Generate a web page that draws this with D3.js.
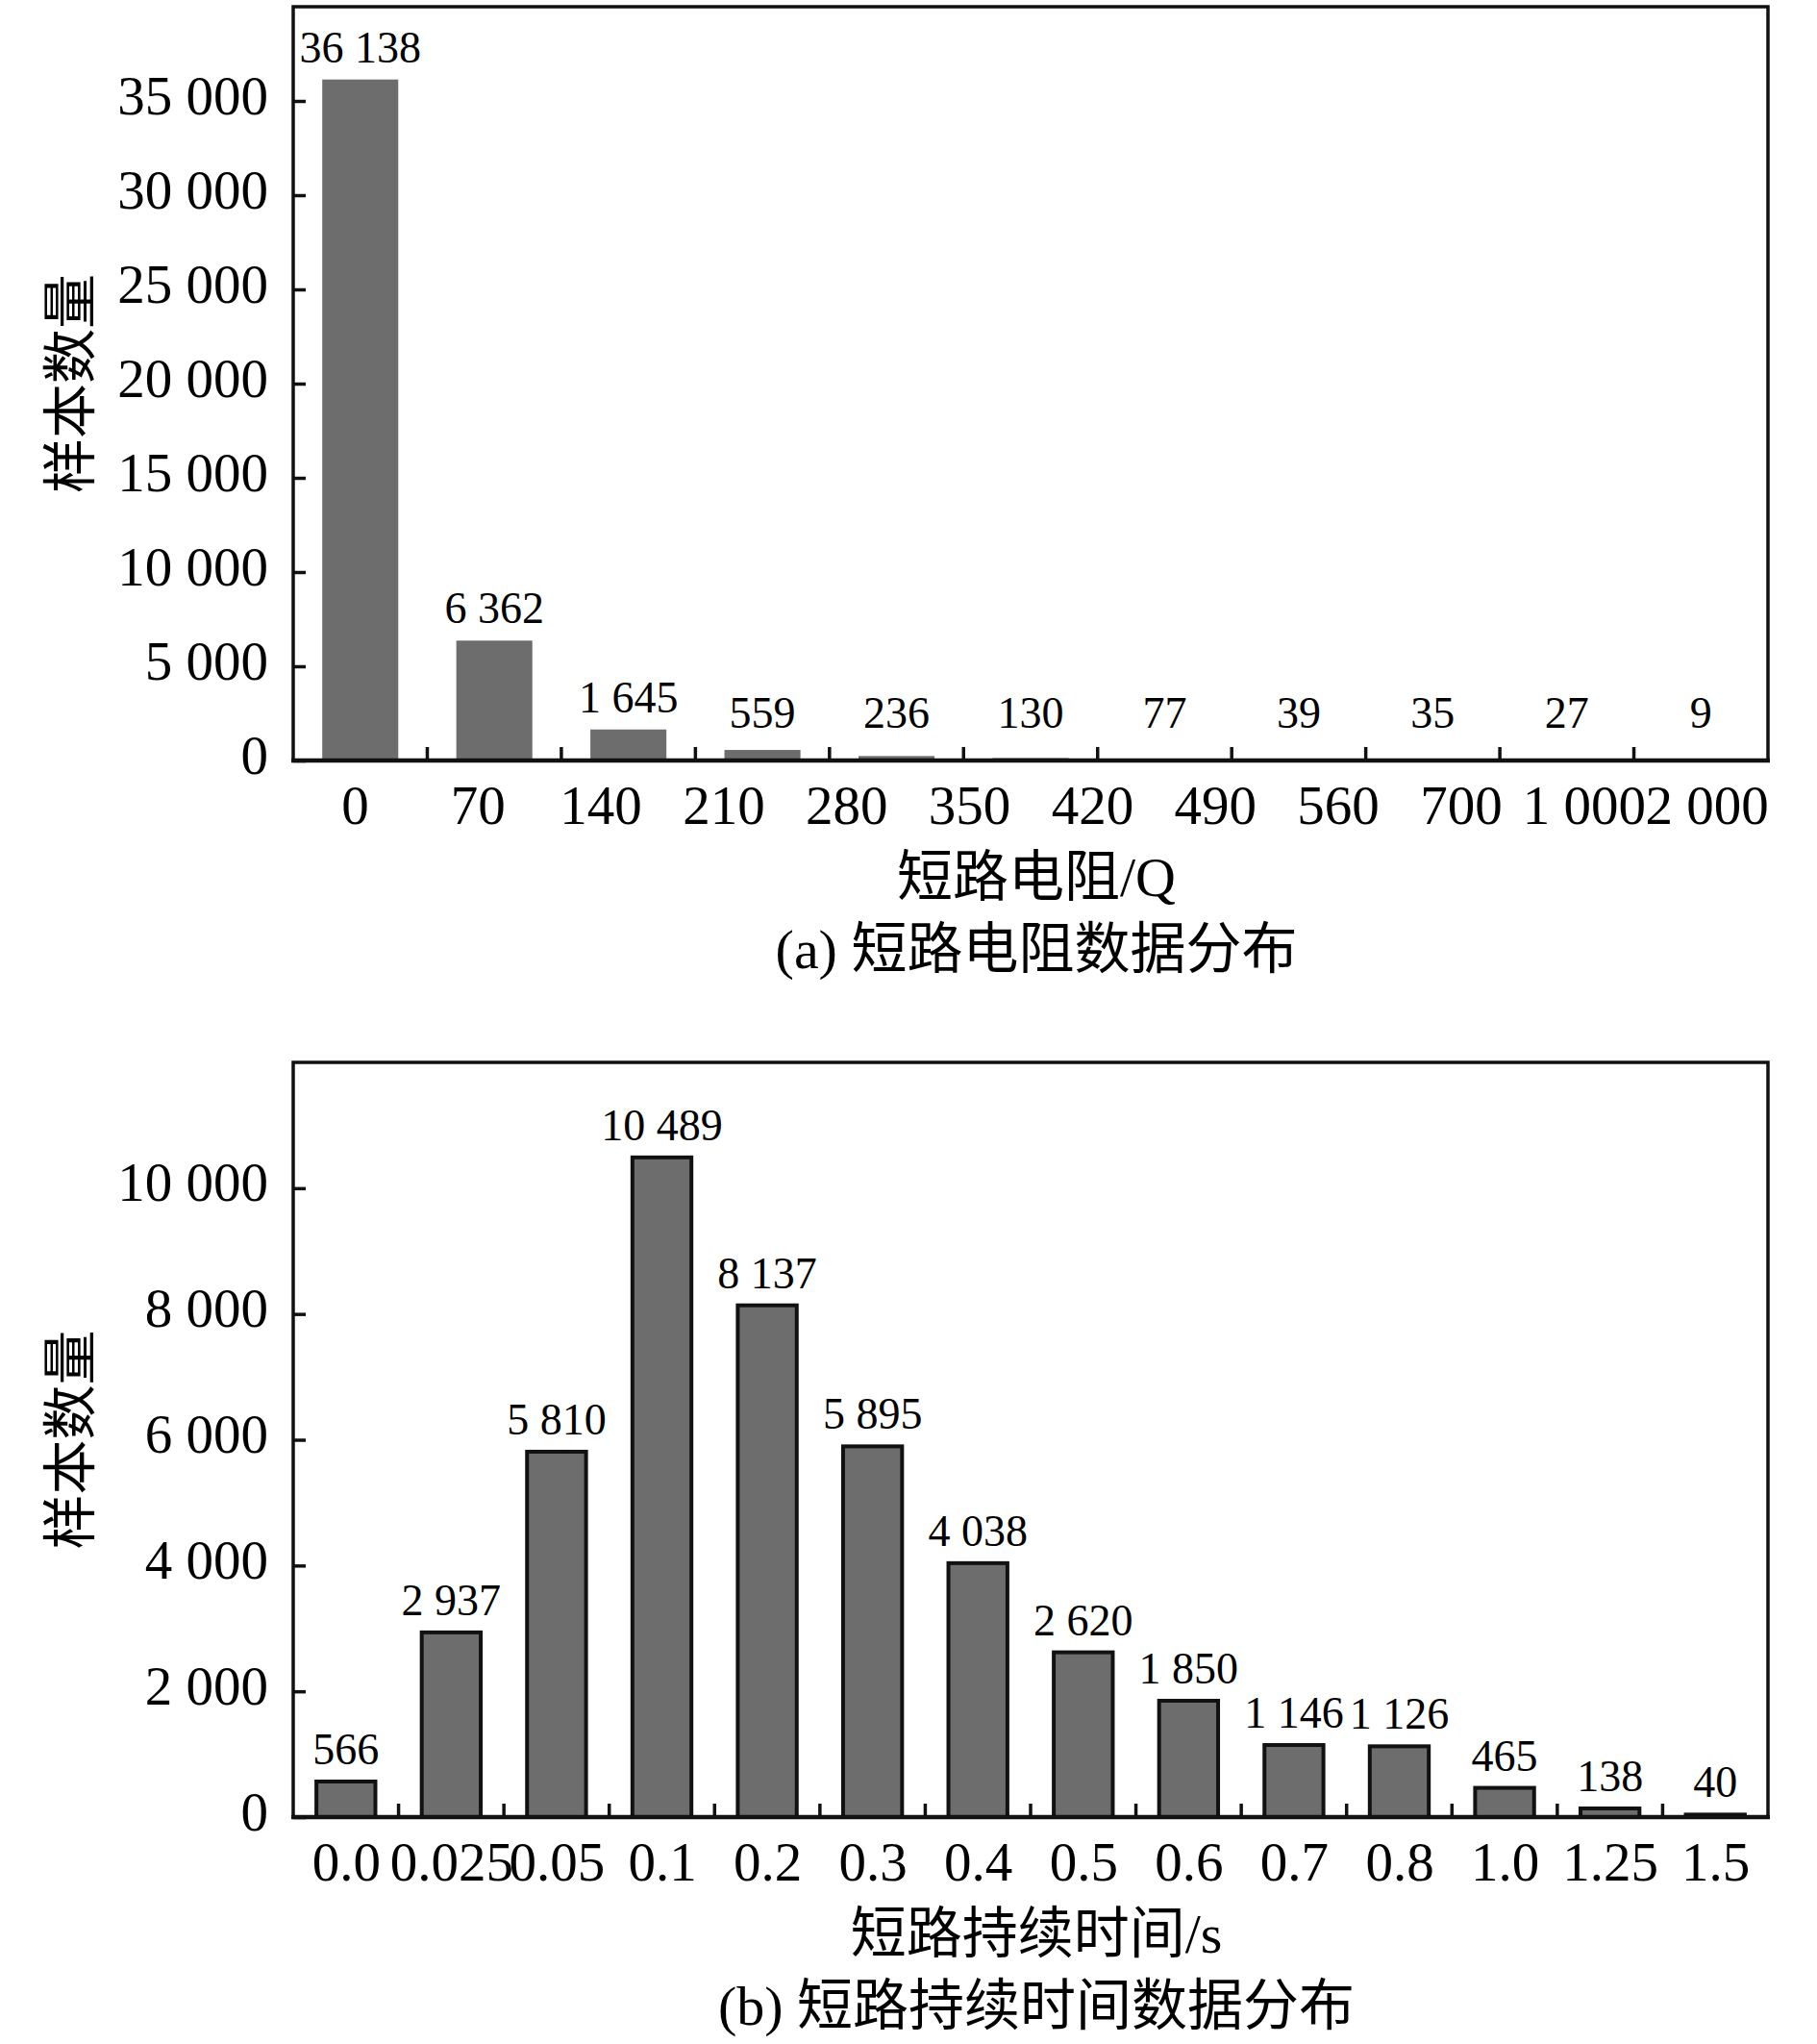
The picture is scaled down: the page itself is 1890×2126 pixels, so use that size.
<!DOCTYPE html>
<html>
<head>
<meta charset="utf-8">
<script src="https://cdn.jsdelivr.net/npm/d3@7"></script>
<style>
body { margin: 0; background: #fff; }
text { font-family: "Liberation Serif", "Noto Sans CJK SC", serif; fill: #000; }
</style>
</head>
<body>
<div id="chart"></div>
<script>
// (a) short-circuit resistance
var resLabels = ["0", "70", "140", "210", "280", "350", "420", "490", "560", "700", "1 000", "2 000"];
var resBins = ["0-70", "70-140", "140-210", "210-280", "280-350", "350-420", "420-490", "490-560", "560-700", "700-1000", "1000-2000"];
var resCounts = [36138, 6362, 1645, 559, 236, 130, 77, 39, 35, 27, 9];
var resTicks = [0, 5000, 10000, 15000, 20000, 25000, 30000, 35000];

// (b) short-circuit duration
var durLabels = ["0.0", "0.025", "0.05", "0.1", "0.2", "0.3", "0.4", "0.5", "0.6", "0.7", "0.8", "1.0", "1.25", "1.5"];
var durCounts = [566, 2937, 5810, 10489, 8137, 5895, 4038, 2620, 1850, 1146, 1126, 465, 138, 40];
var durTicks = [0, 2000, 4000, 6000, 8000, 10000];

var svgWidth = 1890;
var svgHeight = 2126;
var left = 305;
var right = 1839;

var fmt = d3.formatLocale({decimal: ".", thousands: " ", grouping: [3], currency: ["", ""]}).format(",");

var svg = d3.select("#chart")
            .append("svg")
            .attr("width", svgWidth)
            .attr("height", svgHeight);

function drawPanel(p) {
    var g = svg.append("g");

    var y = d3.scaleLinear()
              .domain([0, p.yMax])
              .range([p.bottom, p.top]);

    var xb = d3.scaleBand()
               .domain(p.bins)
               .range([left, right])
               .paddingInner(p.pad)
               .paddingOuter(p.pad / 2);

    var xl = d3.scalePoint()
               .domain(p.labels)
               .range([left, right])
               .padding(0.5);

    // bars
    g.selectAll("rect.bar")
     .data(p.counts)
     .enter()
     .append("rect")
     .attr("class", "bar")
     .attr("x", (d, i) => xb(p.bins[i]))
     .attr("width", xb.bandwidth())
     .attr("y", d => y(d))
     .attr("height", d => y(0) - y(d))
     .attr("fill", "#6d6d6d")
     .attr("stroke", p.stroke ? "#111" : "none")
     .attr("stroke-width", 4);

    // value labels
    g.selectAll("text.val")
     .data(p.counts)
     .enter()
     .append("text")
     .attr("class", "val")
     .attr("x", (d, i) => xb(p.bins[i]) + xb.bandwidth() / 2)
     .attr("y", d => Math.min(y(d) - 18, p.labelFloor))
     .attr("text-anchor", "middle")
     .attr("font-size", 46)
     .text(d => fmt(d));

    // y axis, ticks inward
    var yAxis = g.append("g")
                 .attr("transform", `translate(${left},0)`)
                 .call(d3.axisLeft(y).tickValues(p.ticks).tickFormat(fmt)
                         .tickSizeInner(-13).tickSizeOuter(0).tickPadding(26))
                 .attr("font-family", null)
                 .attr("font-size", 57);
    yAxis.select(".domain").remove();
    yAxis.selectAll("line").attr("stroke", "#111").attr("stroke-width", 3.5);
    yAxis.selectAll("text").attr("dy", "0.23em");

    // x labels (evenly spread over the axis)
    var xAxis = g.append("g")
                 .attr("transform", `translate(0,${p.bottom})`)
                 .call(d3.axisBottom(xl).tickSize(0).tickPadding(0))
                 .attr("font-family", null)
                 .attr("font-size", 57);
    xAxis.select(".domain").remove();
    xAxis.selectAll("text").attr("y", 66).attr("dy", null);

    // x ticks at bin boundaries, inward
    var half = (xb.step() - xb.bandwidth()) / 2;
    g.selectAll("line.xt")
     .data(p.bins.slice(1))
     .enter()
     .append("line")
     .attr("class", "xt")
     .attr("x1", d => xb(d) - half)
     .attr("x2", d => xb(d) - half)
     .attr("y1", p.bottom)
     .attr("y2", p.bottom - 14)
     .attr("stroke", "#111")
     .attr("stroke-width", 3.5);

    // frame
    g.append("path")
     .attr("d", `M${left},${p.bottom}V${p.top}H${right}V${p.bottom}`)
     .attr("fill", "none")
     .attr("stroke", "#111")
     .attr("stroke-width", 3.5);
    g.append("line")
     .attr("x1", left - 2).attr("x2", right + 2)
     .attr("y1", p.bottom).attr("y2", p.bottom)
     .attr("stroke", "#111")
     .attr("stroke-width", 4.5);

    // titles
    g.append("text")
     .attr("transform", `translate(73,${(p.top + p.bottom) / 2}) rotate(-90)`)
     .attr("text-anchor", "middle")
     .attr("dominant-baseline", "central")
     .attr("font-size", 57)
     .text("样本数量");

    g.append("text")
     .attr("x", 1078)
     .attr("y", p.bottom + 141)
     .attr("text-anchor", "middle")
     .attr("font-size", 58)
     .text(p.xTitle);

    g.append("text")
     .attr("x", 1078)
     .attr("y", p.bottom + 216)
     .attr("text-anchor", "middle")
     .attr("font-size", 58)
     .text(p.caption);
}

drawPanel({
    top: 7, bottom: 791, yMax: 40000,
    bins: resBins, labels: resLabels, counts: resCounts, ticks: resTicks,
    pad: 0.433, stroke: false, labelFloor: 757,
    xTitle: "短路电阻/Q", caption: "(a) 短路电阻数据分布"
});

drawPanel({
    top: 1105, bottom: 1890, yMax: 12000,
    bins: durLabels, labels: durLabels, counts: durCounts, ticks: durTicks,
    pad: 0.44, stroke: true, labelFloor: 99999,
    xTitle: "短路持续时间/s", caption: "(b) 短路持续时间数据分布"
});
</script>
</body>
</html>
